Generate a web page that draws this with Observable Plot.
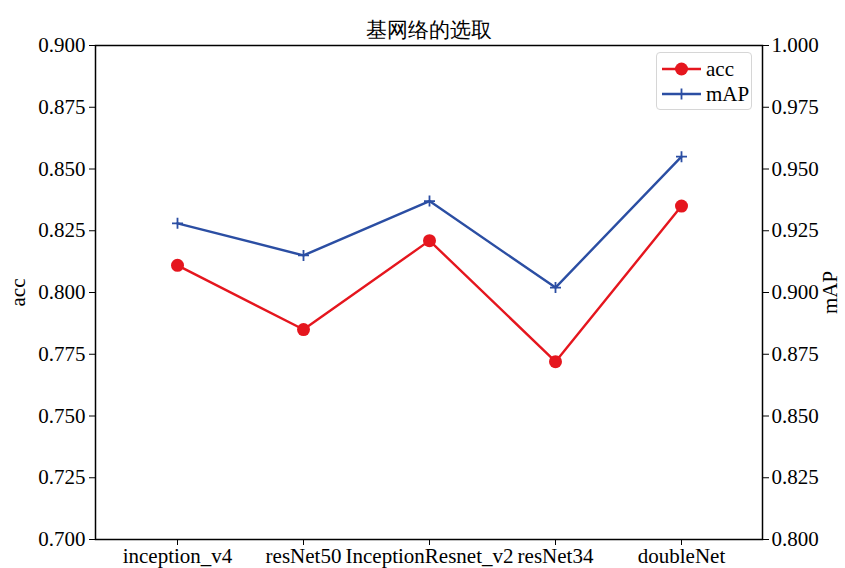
<!DOCTYPE html>
<html>
<head>
<meta charset="utf-8">
<script src="https://cdn.jsdelivr.net/npm/d3@7"></script>
<script src="https://cdn.jsdelivr.net/npm/@observablehq/plot@0.6"></script>
<style>
  html, body { margin: 0; padding: 0; background: #fff; }
  #wrap { position: relative; width: 845px; height: 568px; font-family: "Liberation Serif", "DejaVu Serif", serif; }
  #legend {
    position: absolute; left: 656px; top: 52px; width: 96px; height: 58px;
    box-sizing: border-box; border: 1px solid #d6d6d6; border-radius: 4px; background: #fff;
  }
  #legend .row { position: absolute; left: 0; height: 24px; display: flex; align-items: center; }
  #legend .row span { font-size: 21px; color: #000; margin-left: 1px; line-height: 1; }
</style>
</head>
<body>
<div id="wrap"></div>
<script>
// Backbone networks compared
const networks = ["inception_v4", "resNet50", "InceptionResnet_v2", "resNet34", "doubleNet"];
const accValues = [0.811, 0.785, 0.821, 0.772, 0.835];
const mapValues = [0.928, 0.915, 0.937, 0.902, 0.955];

// Axis ranges and tick labels
const accDomain = [0.700, 0.900];
const mapDomain = [0.800, 1.000];
const accTicks = [0.700, 0.725, 0.750, 0.775, 0.800, 0.825, 0.850, 0.875, 0.900];
const mapTicks = [0.800, 0.825, 0.850, 0.875, 0.900, 0.925, 0.950, 0.975, 1.000];

const title = "基网络的选取";
const accColor = "#e5161e";
const mapColor = "#2b4ea3";

// mAP shares the acc scale; convert it onto acc units
const toAcc = v => accDomain[0] + (v - mapDomain[0]) * (accDomain[1] - accDomain[0]) / (mapDomain[1] - mapDomain[0]);
const fromAcc = v => mapDomain[0] + (v - accDomain[0]) * (mapDomain[1] - mapDomain[0]) / (accDomain[1] - accDomain[0]);

const accData = networks.map((n, i) => ({network: n, value: accValues[i]}));
const mapData = networks.map((n, i) => ({network: n, value: toAcc(mapValues[i])}));

// thin "+" marker
const thinPlus = {
  draw(context, size) {
    const r = Math.sqrt(size / Math.PI);
    context.moveTo(-r, 0); context.lineTo(r, 0);
    context.moveTo(0, -r); context.lineTo(0, r);
  }
};

const chart = Plot.plot({
  width: 845,
  height: 568,
  marginLeft: 95,
  marginRight: 83,
  marginTop: 45,
  marginBottom: 29,
  style: {fontFamily: "'Liberation Serif', 'DejaVu Serif', serif", fontSize: "21px", color: "#000", background: "#fff"},
  x: {type: "point", domain: networks, padding: 0.645},
  y: {domain: accDomain},
  marks: [
    Plot.frame({stroke: "#000", strokeWidth: 1.5}),
    Plot.axisY({anchor: "left", ticks: accTicks, tickFormat: d => d.toFixed(3), tickSize: 6, tickPadding: 4,
      label: "acc", labelAnchor: "center", labelOffset: 85, labelArrow: "none"}),
    Plot.axisY({anchor: "right", ticks: mapTicks.map(toAcc), tickFormat: d => fromAcc(d).toFixed(3), tickSize: 6, tickPadding: 3,
      label: "mAP", labelAnchor: "center", labelOffset: 74, labelArrow: "none"}),
    Plot.axisX({anchor: "bottom", tickSize: 6, tickPadding: 3, label: null}),
    Plot.line(accData, {x: "network", y: "value", stroke: accColor, strokeWidth: 2.4}),
    Plot.dot(accData, {x: "network", y: "value", r: 6.5, fill: accColor, stroke: "none"}),
    Plot.line(mapData, {x: "network", y: "value", stroke: mapColor, strokeWidth: 2.4}),
    Plot.dot(mapData, {x: "network", y: "value", r: 5.5, symbol: thinPlus, stroke: mapColor, strokeWidth: 1.8, fill: "none"}),
    Plot.text([title], {text: d => d, frameAnchor: "top", dy: -23, fontSize: 21, fill: "#000"})
  ]
});

const wrap = document.getElementById("wrap");
wrap.appendChild(chart);

// Legend
const legend = document.createElement("div");
legend.id = "legend";
const entries = [
  {label: "acc", color: accColor, marker: "dot", top: 4},
  {label: "mAP", color: mapColor, marker: "plus", top: 29}
];
for (const e of entries) {
  const row = document.createElement("div");
  row.className = "row";
  row.style.top = e.top + "px";
  const sw = d3.create("svg").attr("width", 44).attr("height", 24).style("margin-left", "4px");
  sw.append("line").attr("x1", 1).attr("x2", 40).attr("y1", 12).attr("y2", 12)
    .attr("stroke", e.color).attr("stroke-width", 2.4);
  if (e.marker === "dot") {
    sw.append("circle").attr("cx", 20.5).attr("cy", 12).attr("r", 6.5).attr("fill", e.color);
  } else {
    sw.append("path").attr("d", "M15,12H26M20.5,6.5V17.5").attr("stroke", e.color).attr("stroke-width", 1.8);
  }
  row.appendChild(sw.node());
  const label = document.createElement("span");
  label.textContent = e.label;
  row.appendChild(label);
  legend.appendChild(row);
}
wrap.appendChild(legend);
</script>
</body>
</html>
